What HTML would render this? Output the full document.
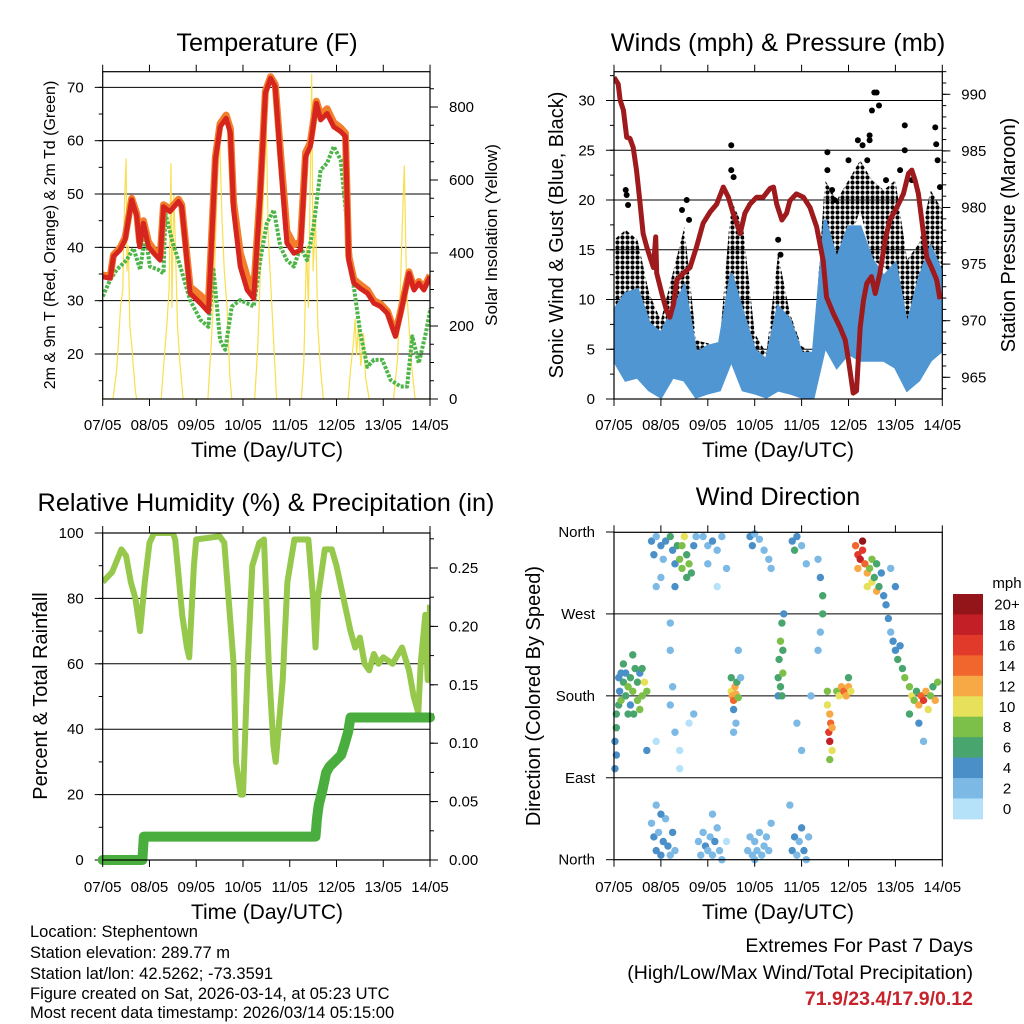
<!DOCTYPE html>
<html><head><meta charset="utf-8"><title>Stephentown station meteogram</title>
<style>
html,body{margin:0;padding:0;background:#fff;}
svg{display:block;font-family:"Liberation Sans",Arial,sans-serif;}
</style></head>
<body>
<svg id="c" xmlns="http://www.w3.org/2000/svg" width="1024" height="1024" viewBox="0 0 1024 1024">
<defs>
<pattern id="gustDots" patternUnits="userSpaceOnUse" width="5" height="5"><circle cx="2.5" cy="2.5" r="2.1" fill="#000"/></pattern>
</defs>
<rect x="0" y="0" width="1024" height="1024" fill="#fff"/>
<text x="267" y="51" font-size="25.3" text-anchor="middle">Temperature (F)</text>
<text x="778" y="51" font-size="25.3" text-anchor="middle">Winds (mph) &amp; Pressure (mb)</text>
<text x="266" y="511" font-size="25.3" text-anchor="middle">Relative Humidity (%) &amp; Precipitation (in)</text>
<text x="778" y="505" font-size="25.3" text-anchor="middle">Wind Direction</text>
<text x="267" y="457" font-size="21" text-anchor="middle">Time (Day/UTC)</text>
<text x="778" y="457" font-size="21" text-anchor="middle">Time (Day/UTC)</text>
<text x="267" y="919" font-size="21" text-anchor="middle">Time (Day/UTC)</text>
<text x="778" y="919" font-size="21" text-anchor="middle">Time (Day/UTC)</text>
<text transform="translate(55,235) rotate(-90)" font-size="16" text-anchor="middle">2m &amp; 9m T (Red, Orange) &amp; 2m Td (Green)</text>
<text transform="translate(497,235) rotate(-90)" font-size="17" text-anchor="middle">Solar Insolation (Yellow)</text>
<text transform="translate(563,235) rotate(-90)" font-size="20" text-anchor="middle">Sonic Wind &amp; Gust (Blue, Black)</text>
<text transform="translate(1015,235) rotate(-90)" font-size="20" text-anchor="middle">Station Pressure (Maroon)</text>
<text transform="translate(47,696) rotate(-90)" font-size="20" text-anchor="middle">Percent &amp; Total Rainfall</text>
<text transform="translate(540,696) rotate(-90)" font-size="20" text-anchor="middle">Direction (Colored By Speed)</text>
<g font-size="16.5">
<text x="30" y="937">Location: Stephentown</text>
<text x="30" y="958">Station elevation: 289.77 m</text>
<text x="30" y="979">Station lat/lon: 42.5262; -73.3591</text>
<text x="30" y="999">Figure created on Sat, 2026-03-14, at 05:23 UTC</text>
<text x="30" y="1018">Most recent data timestamp: 2026/03/14 05:15:00</text>
</g>
<g font-size="19.5" text-anchor="end">
<text x="973" y="952">Extremes For Past 7 Days</text>
<text x="973" y="979">(High/Low/Max Wind/Total Precipitation)</text>
<text x="973" y="1005" font-weight="bold" fill="#c8232b">71.9/23.4/17.9/0.12</text>
</g>
<g id="layer"></g>
</svg>
<script>
// ---------- data ----------
const dayLabels=["07/05","08/05","09/05","10/05","11/05","12/05","13/05","14/05"];
const tempTicks=[20,30,40,50,60,70];
const solarTicks=[0,200,400,600,800];
const windTicks=[0,5,10,15,20,25,30];
const presTicks=[965,970,975,980,985,990];
const rhTicks=[0,20,40,60,80,100];
const rainTicks=[0,0.05,0.10,0.15,0.20,0.25];
const dirTicks=[0,90,180,270,360];
const dirLabels=["North","East","South","West","North"];

const tempDays=[0,.16,.23,.37,.48,.62,.73,.79,.87,.98,1.09,1.23,1.3,1.44,1.62,1.69,1.87,2.09,2.26,2.41,2.51,2.64,2.73,2.8,2.94,3.09,3.23,3.37,3.48,3.59,3.69,3.8,3.94,4.09,4.23,4.34,4.44,4.57,4.66,4.8,4.94,5.09,5.19,5.26,5.37,5.51,5.66,5.8,5.94,6.09,6.26,6.37,6.55,6.66,6.76,6.87,7.0];
const temp2m=[34.5,34.2,38.3,39.5,41.4,48.9,45.8,40.1,44.5,40.1,38.9,37.6,47.6,46.7,48.6,47.6,31.4,29.5,27.9,56.4,62.6,64.2,61.4,47.0,36.4,32.0,30.4,50.1,68.9,71.7,70.1,56.4,40.8,38.9,39.5,57.0,58.9,67.0,63.9,65.1,62.6,61.7,60.8,37.6,33.3,32.3,31.4,29.5,28.9,27.6,23.3,27.6,35.1,32.0,33.3,32.0,34.5];
const temp9m=[34.8,34.6,38.6,39.9,41.8,49.2,46.3,41.0,45.0,41.0,39.6,38.4,48.0,47.2,49.0,48.0,32.6,31.0,29.5,57.0,63.2,64.8,62.2,48.5,39.0,34.5,32.0,51.0,69.3,72.0,70.6,58.0,43.0,40.5,41.0,57.8,59.6,67.4,64.8,66.0,63.4,62.4,61.4,38.4,34.0,33.0,32.0,30.0,29.4,28.0,23.8,28.0,35.4,32.4,33.6,32.4,34.8];
const dewDays=[0,.16,.3,.51,.66,.8,.91,1.01,1.19,1.3,1.34,1.48,1.66,1.87,2.09,2.26,2.37,2.51,2.62,2.76,2.94,3.23,3.37,3.51,3.66,3.8,3.94,4.09,4.23,4.37,4.51,4.66,4.8,4.94,5.09,5.23,5.37,5.51,5.66,5.8,5.98,6.16,6.37,6.51,6.62,6.76,6.91,7.01];
const dewPoint=[30.8,33.9,35.8,37.6,39.8,35.8,42.6,36.4,35.8,35.1,46.4,41.4,36.4,30.1,26.4,25.1,35.8,22.6,20.8,28.9,30.1,28.9,37.6,44.5,47.0,40.1,37.6,36.4,40.1,37.6,43.9,54.5,55.8,58.9,56.4,43.9,32.6,23.9,17.6,18.9,18.9,15.1,13.9,13.9,23.3,18.3,23.9,28.6];
const solarDays=[0,0.22,0.3,0.33,0.38,0.43,0.47,0.5,0.52,0.55,0.58,0.62,0.66,0.7,0.73,1.25,1.32,1.37,1.42,1.46,1.48,1.52,1.56,1.6,1.65,1.72,2.25,2.32,2.38,2.44,2.5,2.55,2.6,2.66,2.72,2.76,3.25,3.32,3.38,3.45,3.5,3.54,3.6,3.66,3.72,4.25,4.3,4.36,4.4,4.44,4.47,4.5,4.55,4.6,4.66,4.72,5.25,5.3,5.36,5.4,5.43,5.47,5.52,5.58,5.62,5.7,6.22,6.3,6.36,6.4,6.45,6.5,6.55,6.6,6.68,7.0];
const solarValues=[0,0,80,140,250,300,560,659,350,420,200,150,80,20,0,0,120,200,300,646,250,560,400,200,100,0,0,150,300,550,724,500,350,250,60,0,0,150,380,600,741,450,300,150,0,0,100,420,250,600,890,350,500,200,80,0,0,80,150,220,120,200,90,180,60,0,0,100,280,450,640,300,200,100,0,0];

const presDays=[0,.09,.13,.2,.27,.34,.41,.48,.55,.62,.7,.77,.84,.89,.91,1.02,1.12,1.19,1.27,1.34,1.48,1.62,1.76,1.9,2.05,2.19,2.33,2.44,2.54,2.69,2.79,2.9,3.04,3.18,3.33,3.4,3.47,3.58,3.68,3.75,3.89,4.04,4.18,4.32,4.46,4.53,4.68,4.82,4.93,5.0,5.1,5.17,5.25,5.32,5.39,5.49,5.57,5.67,5.78,5.88,6.03,6.17,6.28,6.35,6.42,6.49,6.6,6.67,6.77,6.88,6.95];
const pressure=[991.5,990.9,989.5,988.6,986.2,986.1,985.3,983.3,980.6,977.7,976.5,975.6,974.7,977.4,974.2,972.4,970.9,970.3,971.5,973.6,974.2,974.7,976.5,978.6,979.6,980.3,981.8,980.9,979.5,977.7,979.5,980.3,980.9,980.9,981.7,981.8,980.3,978.9,979.5,980.6,981.2,980.9,980.0,978.3,975.3,972.1,970.6,969.4,968.3,966.5,963.6,963.8,969.4,971.8,973.3,973.9,972.4,974.2,977.1,978.9,980.0,981.2,983.0,983.3,982.4,981.2,977.7,975.6,974.7,973.6,971.9];
const windDays=[0,0.25,0.5,0.75,1,1.25,1.5,1.75,2,2.25,2.5,2.75,3,3.25,3.5,3.75,4,4.25,4.5,4.75,5,5.25,5.5,5.75,6,6.25,6.5,6.75,7];
const windHigh=[8.9,10.6,11.0,7.6,6.6,8.9,11.3,4.6,5.3,5.6,12.6,8.6,4.9,3.9,9.3,7.9,4.6,4.6,18.0,14.0,17.3,17.3,14.0,12.3,13.6,7.3,12.0,15.3,12.6];
const windLow=[3.9,1.9,2.2,0.9,0.2,2.2,1.9,0.2,0.6,0.9,3.9,0.9,0.6,0.2,0.9,0.6,0.2,0.2,5.3,3.2,4.6,3.9,3.9,3.9,3.2,0.9,1.9,3.9,4.9];
const gustHigh=[16,17,16,10.6,7.9,12.6,17.3,5.9,5.6,5.3,20,17.3,6.6,4.6,14.6,8.6,5.3,4.6,22,20,22,24,22,21,22,14,15.6,21,19];
const gustLow=[8.6,8.3,10.6,5.6,3.9,4.6,8.9,2.6,2.9,3.2,10.6,7.3,3.9,2.9,7.3,4.6,2.9,2.2,13.3,12.3,15.6,19,14,13.3,12.3,5.6,8.9,14,12.3];
const gustPeakDays=[0.25,0.3,1.55,2.5,2.5,2.55,4.55,4.55,4.65,4.7,5.3,5.45,5.5,5.45,5.55,5.6,5.65,5.4,5.8,6.2,6.2,6.35,6.85,6.87,6.9,6.95,3.5,3.55,1.45,0.85,0.27,1.6,5.0,5.2,6.1];
const gustPeaks=[21,19.5,20,25.5,23,22.3,24.8,23,21,20,25.5,26,29,26.5,30.8,30.8,29.5,24,22,27.5,25,22,27.3,25.6,24,21.3,16,14.5,19,14,20.5,18,24,26,23];

const rhDays=[0,.2,.4,.5,.6,.7,.8,.9,1.0,1.1,1.5,1.55,1.7,1.8,1.85,1.95,2.0,2.5,2.6,2.8,2.85,2.95,3.0,3.1,3.2,3.35,3.45,3.55,3.65,3.7,3.85,3.95,4.1,4.4,4.5,4.55,4.6,4.75,4.9,5.0,5.15,5.3,5.4,5.5,5.6,5.7,5.8,5.9,6.0,6.2,6.4,6.55,6.65,6.75,6.8,6.9,6.95,7.0];
const rhValues=[85,88,95,93,85,80,70,85,97,100,100,98,75,65,62,90,98,99,97,60,30,20,20,60,90,97,98,60,35,30,55,85,98,98,80,65,80,95,95,90,80,70,65,68,60,58,63,60,62,60,65,58,50,45,60,75,55,78];
const rainDays=[0,0.85,0.88,4.55,4.58,4.62,4.7,4.78,4.85,5.1,5.18,5.25,5.3,7.0];
const rainTotal=[0,0,0.02,0.02,0.035,0.047,0.06,0.075,0.08,0.09,0.1,0.11,0.122,0.122];

const speedBins=["0","2","4","6","8","10","12","14","16","18","20+"];
const speedColors=["#b5e2f8","#7cb9e4","#4a8fc8","#48a56e","#7cc04a","#e6e05a","#f7a945","#f0662d","#e13a2b","#c21f27","#941519"];
const windDirObs=[
[0.02,130,4],[0.05,145,6],[0.05,160,6],[0.1,170,6],[0.12,185,4],[0.15,175,8],[0.2,195,6],[0.25,180,6],[0.25,205,4],[0.3,190,8],[0.35,200,6],[0.35,170,4],[0.4,185,8],[0.45,210,6],[0.5,195,6],[0.5,175,8],[0.55,205,4],[0.6,180,8],[0.6,210,6],[0.65,195,10],[0.1,200,4],[0.2,215,6],[0.02,100,4],[0.05,115,4],[0.42,160,6],[0.55,165,8],[0.7,185,8],[0.3,160,6],[0.15,205,4],[0.4,225,6],
[0.8,350,4],[0.85,335,4],[0.9,355,2],[1.0,345,4],[1.05,330,2],[1.1,350,4],[1.2,355,6],[1.25,340,4],[1.3,325,4],[1.35,345,6],[1.4,330,8],[1.45,320,8],[1.5,355,10],[1.45,345,8],[1.55,335,6],[1.6,325,8],[1.55,310,6],[1.65,315,6],[1.7,345,4],[1.75,355,2],[1.0,310,2],[1.3,300,4],[0.9,300,2],
[0.8,40,2],[0.85,25,4],[0.9,10,4],[0.95,30,2],[1.0,5,4],[1.05,20,4],[1.1,45,2],[1.15,15,4],[1.2,5,2],[1.25,30,4],[1.3,10,2],[0.9,60,2],[1.0,50,4],
[1.2,260,2],[1.2,230,2],[1.25,190,2],[1.2,170,2],[1.3,140,2],[1.4,120,0],[1.4,100,0],[1.6,150,0],[1.7,160,2],[0.9,130,0],[0.7,120,4],
[1.8,20,2],[1.85,5,2],[1.9,30,2],[1.95,15,4],[2.0,10,2],[2.05,25,2],[2.1,5,2],[2.15,20,4],[2.2,35,2],[2.25,10,2],[2.3,0,2],[2.1,50,2],[2.4,20,0],
[1.9,355,2],[2.0,345,2],[2.1,350,4],[2.2,340,2],[2.3,355,2],[2.0,325,2],[2.4,320,2],[2.2,300,0],
[2.5,185,10],[2.52,180,12],[2.55,175,14],[2.58,190,12],[2.6,182,12],[2.62,195,6],[2.5,200,6],[2.65,178,8],[2.55,165,4],[2.6,150,2],[2.55,140,2],[2.7,200,2],[2.65,230,2],
[2.85,10,2],[2.9,25,2],[2.95,5,2],[3.0,20,2],[3.05,10,2],[3.1,30,2],[3.15,5,2],[3.2,15,2],[3.25,25,2],[3.3,10,2],[3.35,40,2],[3.0,0,2],
[2.9,355,4],[2.95,345,4],[3.0,358,2],[3.1,352,2],[3.2,340,2],[3.3,330,2],[3.35,320,2],
[3.5,200,6],[3.52,220,6],[3.55,240,8],[3.58,260,6],[3.6,230,6],[3.55,190,6],[3.6,205,8],[3.5,180,4],[3.62,270,4],[3.58,180,6],
[3.8,10,4],[3.85,25,4],[3.9,5,2],[3.95,20,2],[4.0,35,4],[4.05,10,4],[4.1,0,2],[4.15,25,2],[3.8,350,4],[3.85,340,6],[3.9,355,4],[4.0,345,2],[4.1,325,2],[3.75,60,2],[3.9,150,2],[4.0,120,2],[4.2,180,2],
[4.35,330,2],[4.4,310,4],[4.45,290,6],[4.45,270,6],[4.4,250,2],[4.35,230,2],
[4.55,170,10],[4.6,160,12],[4.62,150,14],[4.58,140,16],[4.6,130,18],[4.65,120,10],[4.6,110,8],[4.55,185,8],[4.65,145,12],
[4.75,185,8],[4.8,180,10],[4.85,190,12],[4.9,185,14],[4.95,180,12],[5.0,190,12],[5.05,185,10],[5.0,200,6],
[5.15,345,14],[5.2,335,16],[5.25,330,18],[5.3,340,16],[5.2,320,12],[5.35,325,14],[5.4,315,12],[5.45,320,8],[5.5,305,10],[5.55,310,6],[5.6,295,12],[5.3,350,20],[5.5,330,8],[5.4,300,10],[5.65,300,6],[5.7,315,4],[5.6,325,6],
[5.75,290,4],[5.8,280,4],[5.85,265,4],[5.9,250,2],[5.95,240,4],[6.0,230,4],[6.05,220,6],[6.1,235,4],[6.15,210,6],[6.2,200,8],[5.9,320,2],[6.0,300,4],
[6.3,190,8],[6.35,180,10],[6.4,175,8],[6.45,185,6],[6.5,170,12],[6.55,180,14],[6.6,175,16],[6.65,185,12],[6.7,165,10],[6.75,180,8],[6.8,190,6],[6.85,175,12],[6.9,195,8],[6.5,150,4],[6.6,130,2],[6.3,160,6]
];

// ---------- helpers ----------
const NS='http://www.w3.org/2000/svg';
const layer=document.getElementById('layer');
function mk(parent,tag,attrs){const e=document.createElementNS(NS,tag);for(const k in attrs)e.setAttribute(k,attrs[k]);parent.appendChild(e);return e;}
function pts(xs,ys,fx,fy){return xs.map((x,i)=>fx(x).toFixed(1)+','+fy(ys[i]).toFixed(1)).join(' ');}

const P1={L:102.7,R:430,T:71.7,B:399,x:d=>102.7+d*46.76};
const P2={L:614,R:942.3,T:71.7,B:399,x:d=>614+d*46.9};
const P3={L:102.7,R:430,T:533,B:860,x:d=>102.7+d*46.76};
const P4={L:614,R:942.3,T:532.3,B:859.7,x:d=>614+d*46.9};
const yTemp=v=>354-(v-20)*5.333;
const ySolar=v=>399-v*0.365;
const yWind=v=>399-v*9.95;
const yPres=p=>377.3-(p-965)*11.32;
const yRH=v=>860-v*3.27;
const yRain=v=>860-v*1168;
const yDir=v=>859.7-v*0.9103;

function clipFor(P,id){
  const defs=mk(layer,'defs',{});
  const cp=mk(defs,'clipPath',{id:id});
  mk(cp,'rect',{x:P.L,y:P.T,width:P.R-P.L,height:P.B-P.T});
}
function frame(P,name){
  const r=mk(layer,'rect',{x:P.L,y:P.T,width:P.R-P.L,height:P.B-P.T,fill:'none',stroke:'#000','stroke-width':1.2});
  
  
}
function xAxis(P,name,labelY){
  const g=mk(layer,'g',{});
  
  
  for(let i=0;i<dayLabels.length;i++){
    const x=P.x(i);
    const t1=mk(g,'line',{x1:x,y1:P.B,x2:x,y2:P.B+7,stroke:'#000','stroke-width':1});
    
    
    const t2=mk(g,'line',{x1:x,y1:P.T,x2:x,y2:P.T-7,stroke:'#000','stroke-width':1});
    
    
    const tx=mk(g,'text',{x:x,y:labelY,'font-size':15,'text-anchor':'middle'});
    tx.textContent=dayLabels[i];
    
    
  }
}
function yAxis(P,side,ticks,labels,fy,minorStep,lo,hi,grid,name){
  const g=mk(layer,'g',{});
  
  
  const x0=side==='left'?P.L:P.R, dir=side==='left'?-1:1;
  if(minorStep){
    for(let v=lo;v<=hi+1e-9;v+=minorStep){
      const y=fy(v); if(y<P.T-0.5||y>P.B+0.5)continue;
      const m=mk(g,'line',{x1:x0,y1:y,x2:x0+dir*4,y2:y,stroke:'#000','stroke-width':1});
      
      
    }
  }
  ticks.forEach((v,i)=>{
    const y=fy(v);
    if(grid&&y>P.T+1&&y<P.B-1){
      const gl=mk(g,'line',{x1:P.L,y1:y,x2:P.R,y2:y,stroke:'#000','stroke-width':1});
      
      
    }
    const t=mk(g,'line',{x1:x0,y1:y,x2:x0+dir*8,y2:y,stroke:'#000','stroke-width':1});
    
    
    const tx=mk(g,'text',{x:x0+dir*19,y:y+5,'font-size':15,'text-anchor':side==='left'?'end':'start'});
    tx.textContent=labels[i];
    
    
  });
}

// ---------- Panel 1 ----------
clipFor(P1,'c1');
yAxis(P1,'left',tempTicks,tempTicks.map(String),yTemp,5,15,75,true,'temperature-y-axis');
yAxis(P1,'right',solarTicks,solarTicks.map(String),ySolar,50,0,900,false,'solar-y-axis');
const g1=mk(layer,'g',{'clip-path':'url(#c1)'});


const solarLine=mk(g1,'polyline',{points:pts(solarDays,solarValues,P1.x,ySolar),fill:'none',stroke:'#f8df4e','stroke-width':1.2});


const dewLine=mk(g1,'polyline',{points:pts(dewDays,dewPoint,P1.x,yTemp),fill:'none',stroke:'#4cb548','stroke-width':4,'stroke-dasharray':'3 1.5','stroke-linejoin':'round'});


const t9Line=mk(g1,'polyline',{points:pts(tempDays,temp9m,P1.x,yTemp),fill:'none',stroke:'#f27d2a','stroke-width':7,'stroke-linejoin':'round'});


const t2Line=mk(g1,'polyline',{points:pts(tempDays,temp2m,P1.x,yTemp),fill:'none',stroke:'#d6251f','stroke-width':5,'stroke-linejoin':'round'});


frame(P1,'temperature-plot-frame');
xAxis(P1,'temperature-x-axis',430);

// ---------- Panel 2 ----------
clipFor(P2,'c2');
yAxis(P2,'left',windTicks,windTicks.map(String),yWind,2.5,0,32.5,true,'wind-y-axis');
yAxis(P2,'right',presTicks,presTicks.map(String),yPres,1,963,993,false,'pressure-y-axis');
const g2=mk(layer,'g',{'clip-path':'url(#c2)'});


const gustBand=mk(g2,'polygon',{points:pts(windDays,gustHigh,P2.x,yWind)+' '+pts(windDays.slice().reverse(),gustLow.slice().reverse(),P2.x,yWind),fill:'url(#gustDots)',stroke:'none'});


gustPeakDays.forEach((d,i)=>{
  const c=mk(g2,'circle',{cx:P2.x(d),cy:yWind(gustPeaks[i]),r:3,fill:'#000'});
  
  
});
const windBand=mk(g2,'polygon',{points:pts(windDays,windHigh,P2.x,yWind)+' '+pts(windDays.slice().reverse(),windLow.slice().reverse(),P2.x,yWind),fill:'#4f96d2',stroke:'#4f96d2','stroke-width':3});


const presLine=mk(g2,'polyline',{points:pts(presDays,pressure,P2.x,yPres),fill:'none',stroke:'#9e1a1c','stroke-width':5,'stroke-linejoin':'round'});


frame(P2,'winds-plot-frame');
xAxis(P2,'winds-x-axis',430);

// ---------- Panel 3 ----------
clipFor(P3,'c3');
yAxis(P3,'left',rhTicks,rhTicks.map(String),yRH,10,0,100,true,'humidity-y-axis');
yAxis(P3,'right',rainTicks,rainTicks.map(v=>v.toFixed(2)),yRain,0.025,0,0.28,false,'rainfall-y-axis');
const g3=mk(layer,'g',{'clip-path':'url(#c3)'});


const rhLine=mk(g3,'polyline',{points:pts(rhDays,rhValues,P3.x,yRH),fill:'none',stroke:'#95c84b','stroke-width':6,'stroke-linejoin':'round'});


const rainLine=mk(layer,'polyline',{points:pts(rainDays,rainTotal,P3.x,yRain),fill:'none',stroke:'#4aae3f','stroke-width':10,'stroke-linejoin':'round','stroke-linecap':'round'});


frame(P3,'humidity-plot-frame');
xAxis(P3,'humidity-x-axis',892);

// ---------- Panel 4 ----------
clipFor(P4,'c4');
yAxis(P4,'left',dirTicks,dirLabels,yDir,0,0,0,true,'direction-y-axis');
const g4=mk(layer,'g',{});


windDirObs.forEach(o=>{
  const bin=Math.min(10,Math.floor(o[2]/2));
  const c=mk(g4,'circle',{cx:P4.x(o[0]),cy:yDir(o[1]),r:3.7,fill:speedColors[bin]});
  
  
});
frame(P4,'wind-direction-plot-frame');
xAxis(P4,'wind-direction-x-axis',892);

// legend
const lg=mk(layer,'g',{});


const lt=mk(lg,'text',{x:1007,y:588,'font-size':15,'text-anchor':'middle'});
lt.textContent='mph';


for(let i=0;i<speedBins.length;i++){
  const k=speedBins.length-1-i;
  const y=594+i*20.45;
  const r=mk(lg,'rect',{x:953,y:y,width:30,height:20.9,fill:speedColors[k]});
  
  
  const t=mk(lg,'text',{x:1007,y:y+15.5,'font-size':15,'text-anchor':'middle'});
  t.textContent=speedBins[k];
  
  
}
</script>
</body></html>
